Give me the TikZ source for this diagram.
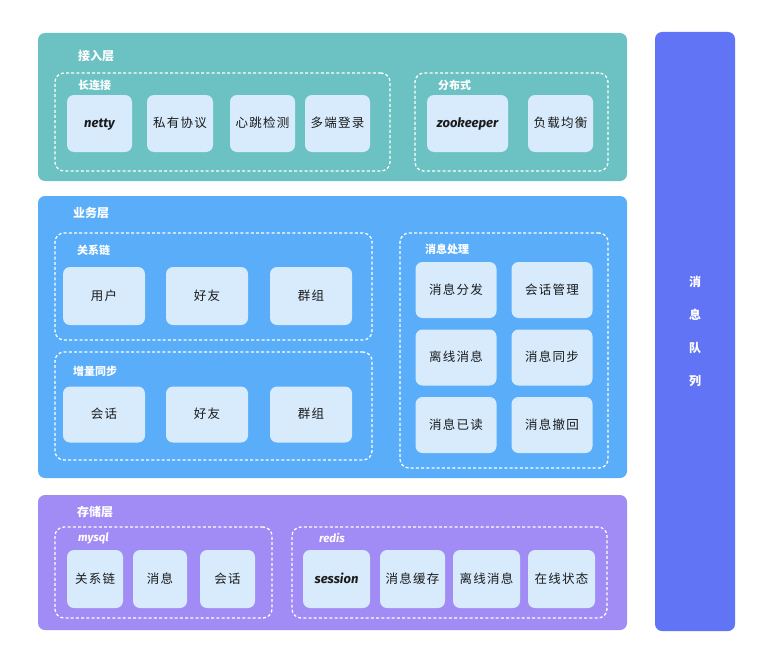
\documentclass[tikz,border=0pt]{standalone}
\usepackage{fontspec}
\setmainfont{Noto Sans CJK SC}
\newfontfamily\cellf{Noto Sans CJK SC}[LetterSpace=10]
\newfontfamily\latinf{Fira Sans}
\definecolor{accgreen}{HTML}{6CC2C2}
\definecolor{bizblue}{HTML}{5AADF8}
\definecolor{storpurple}{HTML}{A18BF5}
\definecolor{mqblue}{HTML}{6074F5}
\definecolor{itemfill}{HTML}{D7EBFD}
\definecolor{itemtext}{HTML}{1A1A1A}
\tikzset{
  layer/.style={draw=none, rounded corners=7pt, inner sep=0pt},
  grp/.style={draw=white, dash pattern=on 3pt off 2.2pt, line width=1.3pt, rounded corners=9pt, inner sep=0pt},
  cell/.style={fill=itemfill, rounded corners=7pt, inner sep=0pt, text=itemtext, text height=10pt, text depth=2pt,
               font=\cellf\fontsize{12.5}{14}\selectfont},
  lat/.style={font=\latinf\bfseries\itshape\fontsize{13}{14}\selectfont},
  ttl/.style={text=white, anchor=west, inner sep=0pt, font=\bfseries\fontsize{12}{14}\selectfont},
  sttl/.style={text=white, anchor=west, inner sep=0pt, font=\bfseries\fontsize{11}{13}\selectfont},
}
\begin{document}
\begin{tikzpicture}[x=1pt,y=-1pt]
\useasboundingbox (0,0) rectangle (767,661);
\fill[white] (0,0) rectangle (767,661);

% layers
\node[layer, fill=accgreen, minimum width=589pt, minimum height=148pt] (access) at (332.5,107) {};
\node[layer, fill=bizblue, minimum width=589pt, minimum height=282pt] (biz) at (332.5,337) {};
\node[layer, fill=storpurple, minimum width=589pt, minimum height=135pt] (store) at (332.5,562.5) {};
\node[layer, fill=mqblue, minimum width=80pt, minimum height=599pt, text=white,
      font=\bfseries\fontsize{12}{33}\selectfont, align=center] (mq) at (695,331.5) {消\\息\\队\\列};

% layer titles
\node[ttl] (accessT) at (78,56) {接入层};
\node[ttl] (bizT) at (73,213) {业务层};
\node[ttl] (storeT) at (77,512) {存储层};

% groups
\node[grp, minimum width=335pt, minimum height=98pt] (longconn) at (222.5,122) {};
\node[grp, minimum width=193pt, minimum height=98pt] (distrib) at (511.5,122) {};
\node[grp, minimum width=317pt, minimum height=107pt] (relchain) at (213.5,286.5) {};
\node[grp, minimum width=317pt, minimum height=108pt] (incsync) at (213.5,406) {};
\node[grp, minimum width=208pt, minimum height=235pt] (msgproc) at (504,350.5) {};
\node[grp, minimum width=217pt, minimum height=91pt] (mysql) at (163.5,572.5) {};
\node[grp, minimum width=315pt, minimum height=91pt] (redis) at (449.5,572.5) {};

\node[sttl] (longconnT) at (78,85) {长连接};
\node[sttl] (distribT) at (438,85) {分布式};
\node[sttl] (relchainT) at (77,250) {关系链};
\node[sttl] (incsyncT) at (73,371) {增量同步};
\node[sttl] (msgprocT) at (425,249) {消息处理};
\node[sttl, font=\latinf\bfseries\itshape\fontsize{11.5}{13}\selectfont] (mysqlT) at (78,538) {mysql};
\node[sttl, font=\latinf\bfseries\itshape\fontsize{11.5}{13}\selectfont] (redisT) at (319,538) {redis};

% access cells
\node[cell, lat, minimum width=65pt, minimum height=57pt] (netty) at (99.5,123.5) {netty};
\node[cell, minimum width=66pt, minimum height=57pt] (proto) at (180,123.5) {私有协议};
\node[cell, minimum width=65pt, minimum height=57pt] (heart) at (262.5,123.5) {心跳检测};
\node[cell, minimum width=65pt, minimum height=57pt] (multi) at (337.5,123.5) {多端登录};
\node[cell, lat, minimum width=81pt, minimum height=57pt] (zk) at (467.5,123.5) {zookeeper};
\node[cell, minimum width=65pt, minimum height=57pt] (lb) at (560.5,123.5) {负载均衡};

% relation chain cells
\node[cell, minimum width=82pt, minimum height=58pt] (user) at (104,296) {用户};
\node[cell, minimum width=82pt, minimum height=58pt] (friend) at (207,296) {好友};
\node[cell, minimum width=82pt, minimum height=58pt] (group) at (311,296) {群组};
% incremental sync cells
\node[cell, minimum width=82pt, minimum height=56pt] (sess) at (104,414.5) {会话};
\node[cell, minimum width=82pt, minimum height=56pt] (friend2) at (207,414.5) {好友};
\node[cell, minimum width=82pt, minimum height=56pt] (group2) at (311,414.5) {群组};

% message processing cells
\node[cell, minimum width=81pt, minimum height=56pt] (dispatch) at (456,290) {消息分发};
\node[cell, minimum width=81pt, minimum height=56pt] (sessmgr) at (552,290) {会话管理};
\node[cell, minimum width=81pt, minimum height=56pt] (offline) at (456,357.5) {离线消息};
\node[cell, minimum width=81pt, minimum height=56pt] (msgsync) at (552,357.5) {消息同步};
\node[cell, minimum width=81pt, minimum height=56pt] (read) at (456,425) {消息已读};
\node[cell, minimum width=81pt, minimum height=56pt] (recall) at (552,425) {消息撤回};

% storage cells
\node[cell, minimum width=56pt, minimum height=58pt] (sRel) at (95,579) {关系链};
\node[cell, minimum width=54pt, minimum height=58pt] (sMsg) at (160,579) {消息};
\node[cell, minimum width=55pt, minimum height=58pt] (sSess) at (227.5,579) {会话};
\node[cell, lat, minimum width=67pt, minimum height=58pt] (session) at (336.5,579) {session};
\node[cell, minimum width=65pt, minimum height=58pt] (cache) at (412.5,579) {消息缓存};
\node[cell, minimum width=67pt, minimum height=58pt] (rOff) at (486.5,579) {离线消息};
\node[cell, minimum width=67pt, minimum height=58pt] (online) at (561.5,579) {在线状态};
\end{tikzpicture}
\end{document}
